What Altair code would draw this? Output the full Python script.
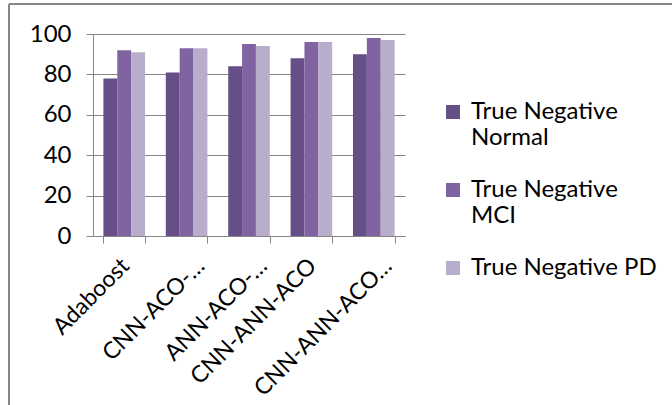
import altair as alt
import pandas as pd

methods = ["Adaboost", "CNN-ACO-…", "ANN-ACO-…", "CNN-ANN-ACO", "CNN-ANN-ACO…"]
series = ["True Negative Normal", "True Negative MCI", "True Negative PD"]
tn_normal = [78, 81, 84, 88, 90]
tn_mci = [92, 93, 95, 96, 98]
tn_pd = [91, 93, 94, 96, 97]
colors = ["#654F86", "#8064A2", "#B9ADCC"]

rows = []
for i, m in enumerate(methods):
    for s, vals in zip(series, [tn_normal, tn_mci, tn_pd]):
        rows.append({"method": m, "series": s, "value": vals[i]})
df = pd.DataFrame(rows)

FONT = "Lato"
GREY = "#868686"

label_expr = (
    "datum.label == 'True Negative Normal' ? ['True Negative', 'Normal'] : "
    "datum.label == 'True Negative MCI' ? ['True Negative', 'MCI'] : "
    "['True Negative PD', ' ']"
)

bars = alt.Chart(df).mark_bar().encode(
    x=alt.X(
        "method:N",
        sort=methods,
        scale=alt.Scale(paddingInner=0.333, paddingOuter=0.1667),
        axis=alt.Axis(
            title=None,
            labelAngle=-45,
            labelAlign="right",
            labelBaseline="middle",
            tickBand="extent",
            domainColor=GREY,
            tickColor=GREY,
            tickSize=7,
            labelFont=FONT,
            labelFontSize=23,
            labelColor="black",
            labelPadding=19,
            labelOffset={
                "condition": {"test": "indexof(datum.label, '…') >= 0", "value": 14},
                "value": 1,
            },
            labelLimit=300,
        ),
    ),
    xOffset=alt.XOffset("series:N", sort=series),
    y=alt.Y(
        "value:Q",
        scale=alt.Scale(domain=[0, 100]),
        axis=alt.Axis(
            title=None,
            values=[0, 20, 40, 60, 80, 100],
            gridColor=GREY,
            domainColor=GREY,
            tickColor=GREY,
            tickSize=7,
            labelFont=FONT,
            labelFontSize=24,
            labelColor="black",
            labelPadding=15,
        ),
    ),
    color=alt.Color(
        "series:N",
        sort=series,
        scale=alt.Scale(domain=series, range=colors),
        legend=alt.Legend(
            title=None,
            orient="none",
            legendX=348,
            legendY=66,
            labelFont=FONT,
            labelFontSize=24,
            labelColor="black",
            labelExpr=label_expr,
            labelLimit=400,
            labelOffset=6,
            symbolType="square",
            symbolSize=196,
            symbolStrokeWidth=0,
            rowPadding=28,
        ),
    ),
)

frame_left = alt.Chart(df).mark_rule(color=GREY, strokeWidth=1.5).encode(
    x=alt.value(-84), y=alt.value(-30), y2=alt.value(371)
)
frame_top = alt.Chart(df).mark_rule(color=GREY, strokeWidth=1.5).encode(
    x=alt.value(-84), x2=alt.value(579), y=alt.value(-30)
)

chart = alt.layer(bars, frame_left, frame_top).properties(
    width=312,
    height=202,
    autosize=alt.AutoSizeParams(type="none"),
    padding={"left": 93, "top": 34, "right": 267, "bottom": 169},
    background="white",
).configure_view(stroke=None)

chart.save("out.html", embed_options={"renderer": "svg", "actions": False})
